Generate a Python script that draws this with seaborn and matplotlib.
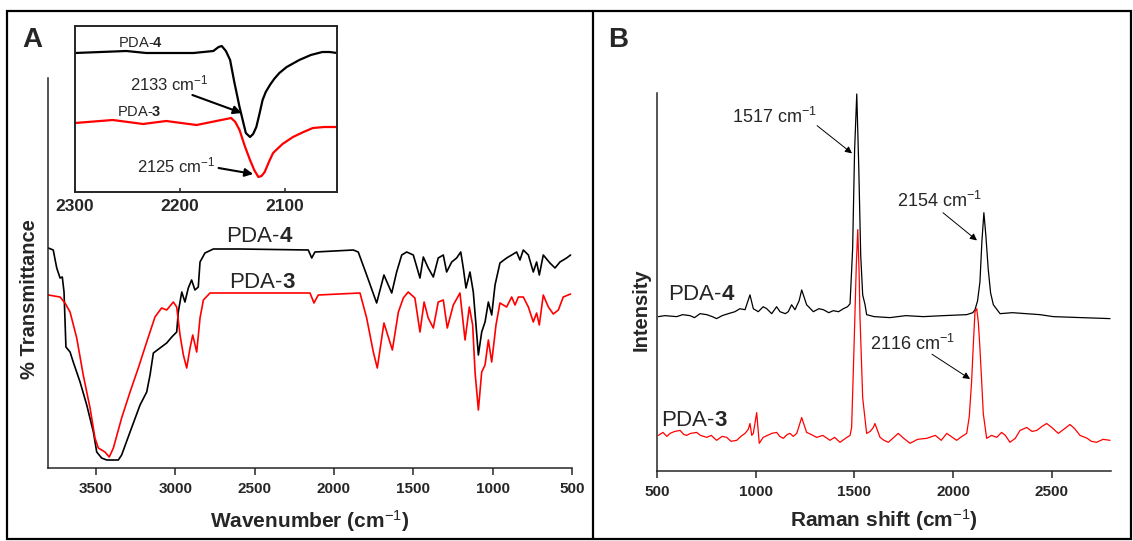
import numpy as np
import pandas as pd
import matplotlib
matplotlib.use("Agg")
import matplotlib.pyplot as plt
import seaborn as sns
from matplotlib.patches import Rectangle
from matplotlib.lines import Line2D

# ---------------- FTIR (panel A) ----------------
ir_wn_pda4 = [3800, 3769, 3747, 3726, 3712, 3701, 3689, 3663, 3643, 3600, 3558, 3516, 3495, 3464,
              3432, 3359, 3338, 3285, 3222, 3180, 3159, 3138, 3096, 3054, 3022, 2991, 2981, 2959,
              2939, 2918, 2897, 2876, 2855, 2844, 2813, 2760, 2592, 2162, 2140, 2120, 1878, 1847,
              1794, 1731, 1685, 1636, 1605, 1573, 1542, 1500, 1458, 1437, 1406, 1374, 1343, 1311,
              1290, 1258, 1227, 1201, 1185, 1168, 1143, 1122, 1105, 1090, 1069, 1048, 1027, 1006,
              985, 954, 912, 880, 849, 828, 807, 775, 744, 723, 706, 681, 639, 607, 576, 534, 509]
ir_t_pda4 = [220, 218, 200, 190, 191, 176, 121, 116, 106, 86, 63, 36, 16, 10,
             8, 8, 13, 36, 63, 76, 93, 115, 120, 125, 131, 136, 156, 176,
             166, 180, 188, 178, 181, 206, 215, 219, 219, 218, 210, 216, 218, 216,
             193, 165, 193, 175, 196, 213, 216, 213, 190, 211, 200, 191, 210, 213,
             196, 206, 210, 216, 200, 180, 196, 176, 143, 113, 136, 146, 166, 153,
             183, 205, 210, 213, 216, 208, 218, 213, 196, 206, 193, 213, 205, 200, 206, 210, 213]

ir_wn_pda3 = [3800, 3726, 3695, 3663, 3621, 3580, 3537, 3506, 3485, 3443, 3416, 3390, 3338, 3285,
              3233, 3180, 3128, 3086, 3054, 3012, 2991, 2970, 2949, 2928, 2907, 2890, 2865, 2844,
              2823, 2781, 2592, 2151, 2126, 2099, 1836, 1794, 1752, 1727, 1685, 1632, 1594, 1563,
              1532, 1490, 1458, 1432, 1406, 1374, 1343, 1311, 1286, 1248, 1206, 1189, 1174, 1147,
              1126, 1111, 1090, 1069, 1048, 1027, 1006, 979, 954, 912, 880, 859, 838, 807, 775,
              744, 723, 706, 681, 649, 618, 586, 555, 509]
ir_t_pda3 = [173, 171, 165, 156, 130, 93, 60, 30, 20, 16, 11, 20, 50, 76,
             100, 126, 151, 160, 158, 166, 161, 133, 113, 100, 120, 133, 116, 150,
             168, 175, 175, 175, 165, 173, 175, 150, 116, 100, 145, 118, 156, 170,
             176, 170, 136, 166, 150, 140, 166, 168, 140, 163, 175, 150, 128, 161,
             143, 96, 58, 96, 103, 128, 106, 143, 165, 161, 171, 163, 171, 171, 161,
             146, 155, 143, 173, 161, 154, 158, 171, 174]

# inset (C≡C region)
in_wn_pda4 = [2300, 2251, 2232, 2187, 2168, 2163, 2160, 2156, 2152, 2148, 2143, 2140, 2137, 2135,
              2133, 2130, 2127, 2124, 2121, 2118, 2114, 2110, 2105, 2098, 2086, 2075, 2064, 2057, 2050]
in_t_pda4 = [139, 141, 139, 139, 141, 145, 146, 141, 132, 110, 85, 72, 59, 57,
             55, 58, 65, 78, 92, 100, 107, 113, 119, 125, 132, 137, 140, 140, 139]
in_wn_pda3 = [2300, 2264, 2235, 2213, 2184, 2151, 2147, 2143, 2138, 2133, 2129, 2125, 2122, 2119,
              2115, 2111, 2102, 2092, 2082, 2073, 2062, 2050]
in_t_pda3 = [69, 72, 68, 71, 67, 74, 70, 62, 46, 32, 22, 15, 16, 20,
             30, 39, 48, 55, 60, 64, 65, 65]

ir_ticks = [3500, 3000, 2500, 2000, 1500, 1000, 500]
inset_ticks = [2300, 2200, 2100]

# ---------------- Raman (panel B) ----------------
ra_shift_pda4 = [507, 540, 600, 630, 667, 690, 718, 752, 780, 802, 830, 861, 895, 920, 946, 971, 988,
                 1013, 1038, 1056, 1081, 1106, 1123, 1150, 1165, 1182, 1199, 1220, 1233, 1258, 1292,
                 1320, 1343, 1370, 1393, 1420, 1444, 1465, 1478, 1491, 1501, 1512, 1522, 1532, 1542,
                 1554, 1562, 1600, 1680, 1760, 1849, 1950, 2069, 2100, 2111, 2124, 2136, 2146, 2156,
                 2166, 2178, 2190, 2204, 2238, 2300, 2440, 2508, 2650, 2795]
ra_int_pda4 = [156, 157, 156, 158, 157, 155, 159, 158, 156, 154, 157, 159, 161, 164, 163, 178, 164,
               161, 166, 164, 159, 166, 161, 159, 161, 168, 163, 172, 183, 168, 161,
               164, 163, 160, 162, 161, 164, 166, 169, 224, 324, 381, 308, 218, 178,
               168, 158, 156, 155, 157, 156, 157, 158, 160, 163, 172, 191, 232, 261,
               238, 204, 180, 168, 159, 160, 158, 156, 155, 154]

ra_shift_pda3 = [507, 530, 550, 566, 590, 617, 635, 650, 670, 701, 720, 752, 775, 802, 830, 853, 875,
                 904, 925, 946, 962, 971, 980, 988, 1005, 1018, 1038, 1060, 1081, 1106, 1122, 1140,
                 1160, 1174, 1190, 1208, 1233, 1258, 1280, 1309, 1340, 1376, 1400, 1427, 1455, 1478,
                 1486, 1498, 1510, 1517, 1524, 1528, 1542, 1562, 1580, 1596, 1604, 1630, 1650, 1672,
                 1700, 1722, 1750, 1782, 1820, 1866, 1910, 1940, 1968, 2018, 2045, 2069, 2082, 2094,
                 2103, 2111, 2120, 2128, 2136, 2145, 2153, 2170, 2195, 2221, 2246, 2265, 2288, 2315,
                 2339, 2373, 2400, 2424, 2450, 2474, 2500, 2533, 2560, 2592, 2615, 2643, 2680, 2700,
                 2727, 2760, 2795]
ra_int_pda3 = [36, 39, 35, 38, 40, 41, 37, 36, 38, 39, 36, 34, 36, 31, 35, 34, 30,
               31, 35, 38, 42, 48, 36, 38, 59, 28, 34, 36, 38, 39, 35, 33,
               37, 38, 35, 38, 54, 39, 37, 34, 36, 31, 34, 29, 33, 36,
               44, 124, 210, 244, 200, 158, 74, 38, 40, 44, 48, 34, 31, 29,
               34, 38, 33, 28, 32, 33, 36, 31, 38, 31, 35, 38, 55, 91,
               130, 161, 164, 150, 124, 90, 58, 33, 36, 34, 39, 36, 29, 33,
               41, 44, 40, 41, 45, 48, 44, 38, 42, 47, 43, 36, 33, 30,
               29, 32, 31]

ra_ticks = [500, 1000, 1500, 2000, 2500]

# ---------------- style ----------------
sns.set_style("ticks")
plt.rcParams['font.family'] = ['Liberation Sans', 'DejaVu Sans']
plt.rcParams['mathtext.fontset'] = 'custom'
plt.rcParams['mathtext.rm'] = 'Liberation Sans'
plt.rcParams['mathtext.bf'] = 'Liberation Sans:bold'
plt.rcParams['mathtext.it'] = 'Liberation Sans:italic'
plt.rcParams['axes.linewidth'] = 1.1

W, H = 1133, 541
fig = plt.figure(figsize=(W / 100, H / 100), dpi=100)
RED = '#ff0000'

# ---------------- panel A main ----------------
axA = fig.add_axes([48 / W, 1 - 468 / H, 524 / W, 390 / H])
sns.lineplot(x=ir_wn_pda4, y=ir_t_pda4, ax=axA, color='black', lw=1.2, estimator=None, sort=False)
sns.lineplot(x=ir_wn_pda3, y=ir_t_pda3, ax=axA, color=RED, lw=1.2, estimator=None, sort=False)
axA.set_xlim(3802, 500)
axA.set_ylim(0, 390)
axA.set_xticks(ir_ticks)
axA.set_yticks([])
axA.spines['top'].set_visible(False)
axA.spines['right'].set_visible(False)
axA.tick_params(axis='x', direction='out', length=5, width=1.1, labelsize=11, pad=5)
for l in axA.get_xticklabels():
    l.set_fontweight('bold')
axA.set_xlabel('')
axA.set_ylabel('')
axA.text(2466, 231, r'PDA-$\mathbf{4}$', fontsize=16, ha='center', va='center')
axA.text(2454, 185, r'PDA-$\mathbf{3}$', fontsize=16, ha='center', va='center')

# ---------------- panel A inset ----------------
axI = fig.add_axes([75 / W, 1 - 192 / H, 262 / W, 166 / H])
sns.lineplot(x=in_wn_pda4, y=in_t_pda4, ax=axI, color='black', lw=1.6, estimator=None, sort=False)
sns.lineplot(x=in_wn_pda3, y=in_t_pda3, ax=axI, color=RED, lw=1.6, estimator=None, sort=False)
axI.set_xlim(2300, 2050)
axI.set_ylim(0, 166)
axI.set_xticks(inset_ticks)
axI.set_yticks([])
for s in axI.spines.values():
    s.set_linewidth(1.4)
axI.tick_params(axis='x', direction='in', length=3, width=1.1, labelsize=12.5, pad=5)
for l in axI.get_xticklabels():
    l.set_fontweight('bold')
axI.set_xlabel('')
axI.set_ylabel('')
axI.text(2237, 149, r'PDA-$\mathbf{4}$', fontsize=10.5, ha='center', va='center')
axI.text(2239, 80, r'PDA-$\mathbf{3}$', fontsize=10.5, ha='center', va='center')
axI.text(2210, 109, r'2133 cm$^{-1}$', fontsize=12, ha='center', va='center')
axI.text(2203, 27, r'2125 cm$^{-1}$', fontsize=12, ha='center', va='center')
axI.annotate('', xy=(2141, 79), xytext=(2188, 97),
             arrowprops=dict(arrowstyle='-|>', color='black', lw=1.5, mutation_scale=12, shrinkA=0, shrinkB=0))
axI.annotate('', xy=(2130, 18), xytext=(2163, 24),
             arrowprops=dict(arrowstyle='-|>', color='black', lw=1.5, mutation_scale=12, shrinkA=0, shrinkB=0))

# ---------------- panel B ----------------
axB = fig.add_axes([657 / W, 1 - 471 / H, 454 / W, 378 / H])
sns.lineplot(x=ra_shift_pda4, y=ra_int_pda4, ax=axB, color='black', lw=0.9, estimator=None, sort=False)
sns.lineplot(x=ra_shift_pda3, y=ra_int_pda3, ax=axB, color=RED, lw=0.9, estimator=None, sort=False)
axB.set_xlim(500, 2800)
axB.set_ylim(0, 382)
axB.set_xticks(ra_ticks)
axB.set_yticks([])
axB.spines['top'].set_visible(False)
axB.spines['right'].set_visible(False)
axB.tick_params(axis='x', direction='out', length=5, width=1.1, labelsize=11, pad=5)
for l in axB.get_xticklabels():
    l.set_fontweight('bold')
axB.set_xlabel('')
axB.set_ylabel('')
axB.text(728, 178, r'PDA-$\mathbf{4}$', fontsize=16, ha='center', va='center')
axB.text(687, 51, r'PDA-$\mathbf{3}$', fontsize=16, ha='center', va='center')
axB.text(1093, 358, r'1517 cm$^{-1}$', fontsize=13, ha='center', va='center')
axB.text(1929, 273, r'2154 cm$^{-1}$', fontsize=13, ha='center', va='center')
axB.text(1792, 128, r'2116 cm$^{-1}$', fontsize=13, ha='center', va='center')
for head, tail in [((1488, 321), (1311, 349)), ((2121, 233), (1949, 261)), ((2086, 93), (1893, 118))]:
    axB.annotate('', xy=head, xytext=tail,
                 arrowprops=dict(arrowstyle='-|>', color='black', lw=0.7, mutation_scale=10, shrinkA=0, shrinkB=0))

# ---------------- figure labels ----------------
fig.text(310 / W, 1 - 521 / H, r'Wavenumber (cm$^{-1}$)', fontsize=15, fontweight='bold', ha='center', va='center')
fig.text(30 / W, 1 - 299 / H, '% Transmittance', fontsize=14.5, fontweight='bold', rotation=90, ha='center', va='center')
fig.text(884 / W, 1 - 520 / H, r'Raman shift (cm$^{-1}$)', fontsize=15, fontweight='bold', ha='center', va='center')
fig.text(641 / W, 1 - 310 / H, 'Intensity', fontsize=14.5, fontweight='bold', rotation=90, ha='center', va='center')
fig.text(32 / W, 1 - 40 / H, 'A', fontsize=20, fontweight='bold', ha='center', va='center')
fig.text(618 / W, 1 - 40 / H, 'B', fontsize=20, fontweight='bold', ha='center', va='center')

# panel frames
fig.add_artist(Rectangle((7 / W, 1 - 539 / H), (1131 - 7) / W, (539 - 11) / H, fill=False, lw=1.6,
                         edgecolor='black', transform=fig.transFigure))
fig.add_artist(Line2D([593 / W, 593 / W], [1 - 539 / H, 1 - 11 / H], lw=1.6, color='black',
                      transform=fig.transFigure))

fig.savefig('out.png', dpi=100)
